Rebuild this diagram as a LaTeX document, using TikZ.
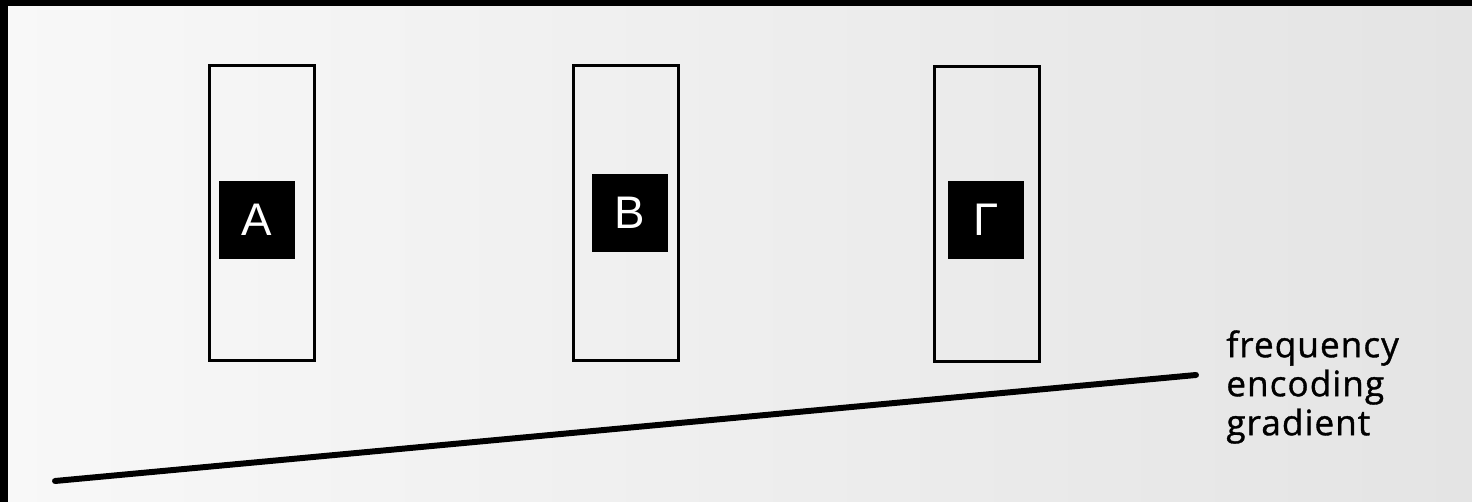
\documentclass[tikz,border=0pt]{standalone}
\usepackage{fontspec}
\usepackage{tikz}
\usetikzlibrary{positioning}
\newfontfamily\tagfont{Liberation Sans}
\newfontfamily\notefont[LetterSpace=3, FakeBold=1]{Open Sans}
\definecolor{paper}{HTML}{F8F8F8}
\definecolor{paperdark}{HTML}{E4E4E4}

\begin{document}
\begin{tikzpicture}[
  x=0.02cm, y=-0.02cm,
  slot/.style={draw, line width=1.7pt, minimum width=2.1cm, minimum height=5.9cm, inner sep=0pt},
  tag/.style={fill=black, text=white, minimum width=1.52cm, minimum height=1.56cm, inner sep=0pt, font=\tagfont\fontsize{26}{26}\selectfont},
  grad/.style={line width=3.4pt, line cap=round},
]
  % scanned page
  \useasboundingbox (0,0) rectangle (1472,502);
  \shade[left color=paper, right color=paperdark] (0,0) rectangle (1472,502);
  \fill[black] (0,0) rectangle (1472,6);
  \fill[black] (0,0) rectangle (8,502);

  % slices
  \node[slot] (slotA) at (262,213) {};
  \node[slot] (slotB) at (626,213) {};
  \node[slot] (slotG) at (987,214) {};
  \node[tag] (tagA) at (257,220) {A};
  \node[tag] (tagB) at (630,213) {B};
  \node[tag] (tagG) at (986,220) {Γ};

  % gradient
  \coordinate (gradlo) at (55,481);
  \coordinate (gradhi) at (1196,375);
  \draw[grad] (gradlo) -- (gradhi);
  \node[font=\notefont\fontsize{20}{22.2}\selectfont, align=left, anchor=north west, inner sep=0pt] (gradtext) at (1226,330) {frequency\\encoding\\gradient};
\end{tikzpicture}
\end{document}
